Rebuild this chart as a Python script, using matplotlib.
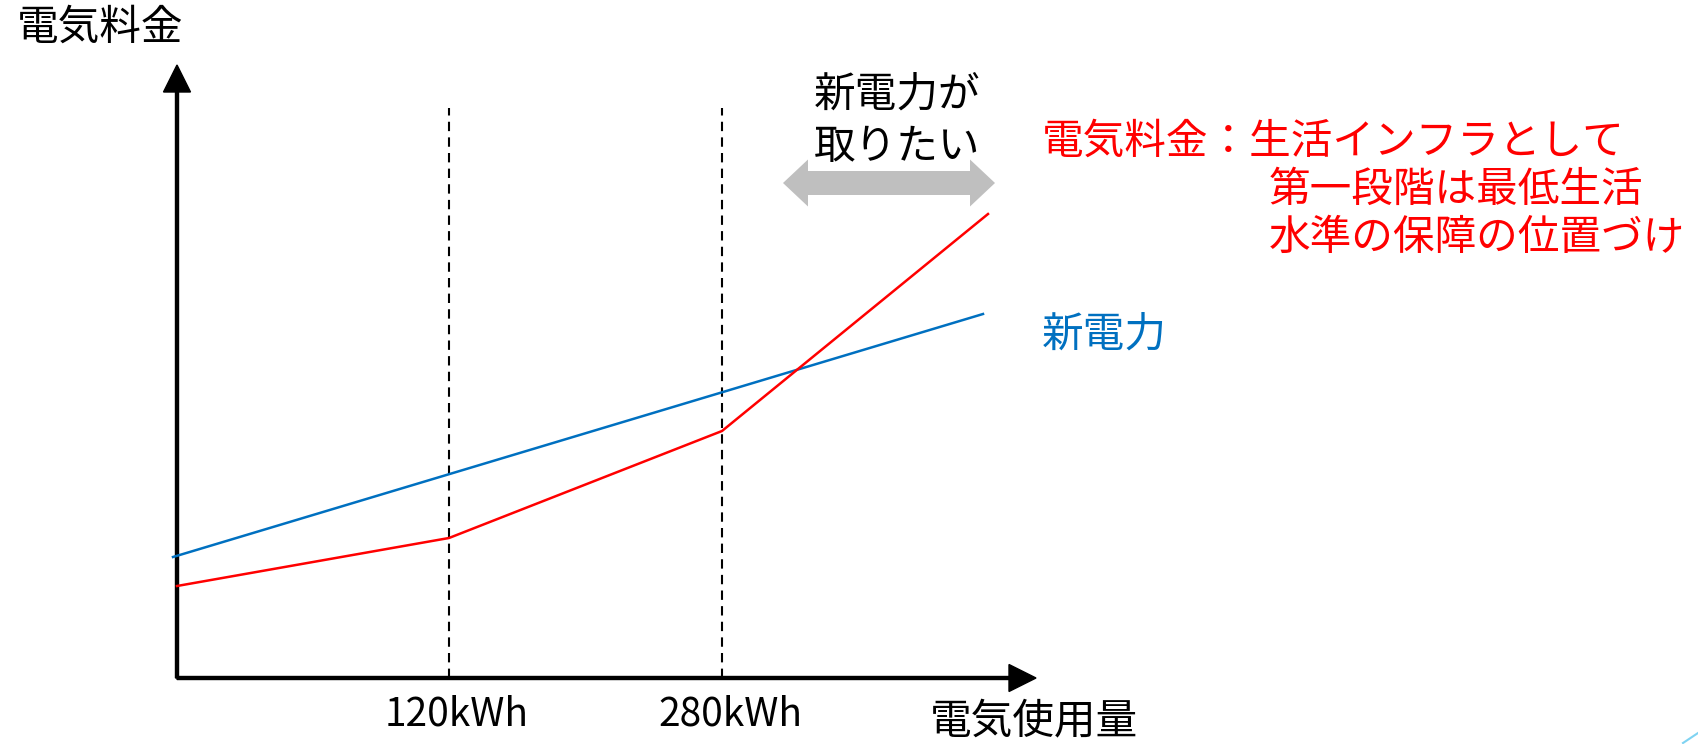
import matplotlib.pyplot as plt
from matplotlib.patches import FancyArrow
from matplotlib.lines import Line2D

plt.rcParams['font.family'] = ['Noto Sans CJK JP', 'DejaVu Sans']

# schematic units (origin of the axes = 0,0)
tickPos = [2.72, 5.45]
tickLabels = ['120kWh', '280kWh']

redX = [0, 2.72, 5.45, 8.11]
redY = [0.92, 1.40, 2.47, 4.64]

blueX = [-0.04, 8.06]
blueY = [1.21, 3.64]

dashTop = 5.70
axisEndX = 8.59
axisEndY = 6.13

wantRange = [6.06, 8.18]
wantLevel = 4.95

redNote = ['電気料金：生活インフラとして', '第一段階は最低生活', '水準の保障の位置づけ']
blueNote = '新電力'
wantNote = '新電力が\n取りたい'
yTitle = '電気料金'
xTitle = '電気使用量'

fig = plt.figure(figsize=(16.98, 7.44), dpi=100)
ax = fig.add_axes([170 / 1698, (744 - 690) / 744, 870 / 1698, 630 / 744])
ax.set_xlim(-0.07, 8.63)
ax.set_ylim(-0.12, 6.18)
ax.axis('off')

# axes arrows
ax.add_patch(FancyArrow(0, 0, 0, axisEndY, width=0.03, head_width=0.27, head_length=0.27,
                        length_includes_head=True, color='black', clip_on=False))
ax.add_patch(FancyArrow(0, 0, axisEndX, 0, width=0.03, head_width=0.27, head_length=0.27,
                        length_includes_head=True, color='black', clip_on=False))

# dashed guides
for x in tickPos:
    ax.plot([x, x], [0, dashTop], color='black', lw=1.5, linestyle=(0, (4.5, 3)))

ax.plot(blueX, blueY, color='#0070C0', lw=1.8, clip_on=False)
ax.plot(redX, redY, color='#FF0000', lw=1.8, clip_on=False)

# gray double arrow
mid = (wantRange[0] + wantRange[1]) / 2
half = (wantRange[1] - wantRange[0]) / 2
for d in (-1, 1):
    ax.add_patch(FancyArrow(mid, wantLevel, d * half, 0, width=0.24, head_width=0.47,
                            head_length=0.25, length_includes_head=True,
                            color='#BFBFBF', lw=0, clip_on=False))

# texts
for x, lab in zip(tickPos, tickLabels):
    ax.text(x + 0.08, -0.37, lab, ha='center', va='center', fontsize=28)
ax.text(-1.60, 6.50, yTitle, ha='left', va='center', fontsize=30)
ax.text(8.57, -0.44, xTitle, ha='center', va='center', fontsize=30)
ax.text(7.20, 5.57, wantNote, ha='center', va='center', fontsize=30, linespacing=1.35)
ax.text(8.65, 5.36, redNote[0], ha='left', va='center', fontsize=30, color='#FF0000')
ax.text(10.92, 4.88, redNote[1], ha='left', va='center', fontsize=30, color='#FF0000')
ax.text(10.92, 4.40, redNote[2], ha='left', va='center', fontsize=30, color='#FF0000')
ax.text(8.65, 3.43, blueNote, ha='left', va='center', fontsize=30, color='#0070C0')

# slide corner decoration
fig.add_artist(Line2D([1683 / 1698, 1.0], [1 / 744, 11 / 744], transform=fig.transFigure,
                      color='#7FD3F2', lw=1.5))

fig.savefig('out.png', dpi=100)
